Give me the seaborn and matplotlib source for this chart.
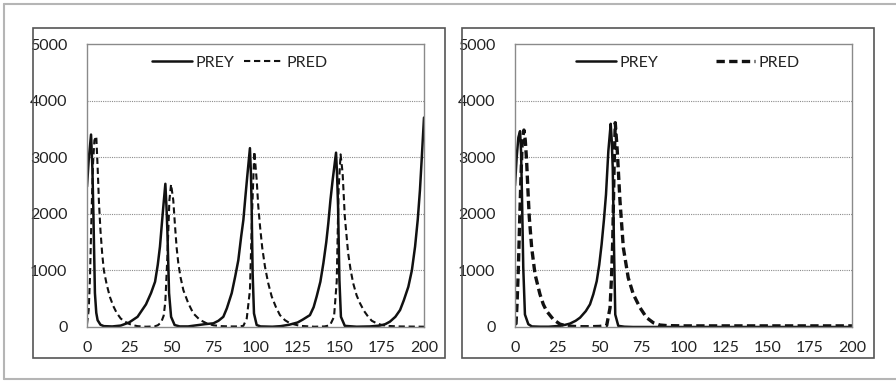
"""
Predator-prey time series, two panels side by side.
"""

import matplotlib
matplotlib.use('Agg')
import matplotlib.pyplot as plt
from matplotlib.patches import Rectangle
from matplotlib.lines import Line2D
from matplotlib.ticker import MultipleLocator
import seaborn as sns

# --- data ------------------------------------------------------------------
left_prey_t = [0, 1, 2.4, 3.2, 3.8, 4.7, 5.5, 6.3, 8, 10, 15, 20, 25, 30, 35, 38,
               40.4, 42, 43.3, 44.5, 45.3, 46.5, 47.2, 47.7, 48.7, 49.9, 52, 55,
               60, 65, 70, 75, 78, 80.9, 83, 85.9, 88, 89.8, 91.5, 92.8, 94, 95.1,
               96.7, 97.3, 97.7, 98.3, 99.1, 100.7, 103, 110, 115, 120, 125, 128,
               132.3, 134.5, 136.3, 138.5, 140.3, 142, 143.2, 144.5, 145.8, 147.8,
               148.4, 149, 149.8, 150.7, 153, 160, 167.9, 173.9, 177, 179.8, 183,
               185.8, 188, 190.7, 192.8, 194.7, 196.3, 197.6, 198.7, 200]
left_prey = [2480, 2950, 3400, 2800, 2000, 600, 250, 120, 40, 15, 10, 25, 80, 180,
             400, 600, 800, 1100, 1420, 1850, 2130, 2530, 2100, 1700, 600, 180, 35,
             10, 10, 30, 50, 65, 110, 180, 330, 600, 900, 1180, 1600, 1890, 2300,
             2660, 3160, 2700, 2130, 950, 240, 35, 10, 5, 15, 40, 80, 130, 210, 350,
             540, 800, 1130, 1500, 1830, 2250, 2600, 3080, 2700, 2130, 830, 180, 20,
             5, 10, 25, 50, 95, 180, 300, 470, 710, 1000, 1420, 1900, 2420, 3000,
             3700]

left_pred_t = [0, 1, 1.8, 2.8, 3.6, 4.4, 5.5, 6.3, 7.1, 8, 9, 10, 11.7, 13.6, 15.6,
               17.6, 20, 22.5, 25, 27.5, 30, 35, 40, 42, 44, 45.5, 46.5, 47.7, 48.9,
               49.9, 51.2, 52.2, 53.2, 54.2, 55.5, 57.2, 60.1, 63.1, 67, 71, 75, 80,
               85, 90, 92.8, 94.8, 96.7, 98.1, 99.3, 100.7, 101.6, 102.7, 104, 105.6,
               107.5, 109.6, 112, 114.5, 117.5, 120.5, 126.4, 135, 141, 144.2, 146.6,
               148.2, 149.3, 150.5, 151.7, 153, 155, 156.5, 158, 160, 162, 164.5,
               166.9, 169, 171.9, 175, 177.8, 185, 200]
left_pred = [50, 300, 900, 2130, 2900, 3300, 3370, 2830, 2200, 1700, 1300, 1000,
             750, 530, 370, 250, 150, 95, 55, 30, 15, 5, 10, 30, 80, 200, 450, 1240,
             2240, 2520, 2240, 1800, 1400, 1125, 880, 650, 420, 240, 125, 65, 30, 15,
             10, 10, 20, 150, 650, 2130, 3100, 2600, 2150, 1775, 1400, 1070, 780,
             540, 360, 210, 120, 65, 20, 5, 10, 30, 180, 800, 2420, 3050, 2720, 1950,
             1300, 1000, 770, 560, 420, 280, 180, 110, 65, 35, 20, 10, 5]

right_prey_t = [0, 1, 2, 3, 3.6, 4.2, 4.9, 5.9, 7.9, 10, 15, 20, 26.7, 30, 32.6, 36,
                38.6, 42, 44.5, 46.5, 48.5, 50, 51.4, 52.8, 54, 55.4, 56.8, 57.4, 58,
                58.8, 59.5, 61.3, 65, 70, 100, 150, 200]
right_prey = [2500, 3000, 3350, 3460, 3100, 2220, 1050, 220, 50, 10, 5, 5, 20, 40,
              60, 110, 165, 280, 400, 580, 810, 1100, 1460, 1900, 2340, 3110, 3590,
              3300, 2810, 1340, 220, 20, 5, 0, 0, 0, 0]

right_pred_t = [0, 0.6, 1.2, 2, 2.7, 3.4, 4.3, 5.3, 6.1, 6.9, 7.7, 8.5, 9.9, 11.9,
                14.8, 16.8, 18.8, 22.7, 26.7, 30.7, 35, 40, 45, 50, 54.4, 56.4, 57.3,
                58, 58.8, 59.5, 60.7, 62.3, 64.3, 67.2, 70.2, 74.2, 78.1, 82.1, 86,
                90, 100, 125, 150, 175, 200]
right_pred = [50, 60, 400, 1050, 1800, 2520, 3300, 3480, 3300, 2930, 2400, 1930,
              1400, 930, 580, 400, 280, 135, 50, 20, 10, 5, 5, 10, 25, 340, 900, 1520,
              2810, 3610, 3110, 2230, 1400, 870, 580, 340, 165, 75, 35, 25, 20, 20, 20,
              20, 20]

series_labels = ['PREY', 'PRED']
x_ticks = list(range(0, 201, 25))
y_ticks = list(range(0, 5001, 1000))

# --- style -----------------------------------------------------------------
sns.set_style('white')
plt.rcParams['font.family'] = ['Lato', 'DejaVu Sans']
plt.rcParams['text.color'] = '#222222'

LINE = '#111111'

fig = plt.figure(figsize=(8.96, 3.81), dpi=100)

# outer light frame (top, left, bottom) in pixel coords
W, H = 896, 381
for xs, ys in [((4, 896), (377, 377)), ((4, 4), (2, 377)), ((4, 896), (2, 2))]:
    fig.add_artist(Line2D([x / W for x in xs], [y / H for y in ys],
                          transform=fig.transFigure, color='#b5b5b5', lw=1.5))

# dark boxes around each panel
for left in (33, 462):
    fig.add_artist(Rectangle((left / W, 23 / H), 412 / W, 330 / H,
                             transform=fig.transFigure, fill=False,
                             edgecolor='#555555', lw=1.2))

panels = [
    (87, left_prey_t, left_prey, left_pred_t, left_pred, 1.5, (0, (3.0, 1.8)), 0.6, 0.454),
    (515, right_prey_t, right_prey, right_pred_t, right_pred, 2.4, (0, (2.5, 1.3)), 3.6, 0.513),
]

for x0, pt, py, dt, dy, dlw, dls, colsp, lx in panels:
    ax = fig.add_axes([x0 / W, 54 / H, 337 / W, 283 / H])
    sns.lineplot(x=pt, y=py, ax=ax, color=LINE, lw=1.8, label=series_labels[0],
                 errorbar=None, sort=False)
    sns.lineplot(x=dt, y=dy, ax=ax, color=LINE, lw=dlw, linestyle=dls,
                 label=series_labels[1], errorbar=None, sort=False)

    ax.set_xlim(0, 200)
    ax.set_ylim(0, 5000)
    ax.set_xticks(x_ticks)
    ax.set_yticks(y_ticks)
    ax.xaxis.set_minor_locator(MultipleLocator(10))
    ax.yaxis.set_minor_locator(MultipleLocator(500))
    ax.tick_params(axis='both', which='major', length=0, labelsize=11.5,
                   labelcolor='#222222')
    ax.tick_params(axis='x', which='major', pad=10)
    ax.tick_params(axis='y', which='major', pad=14)
    ax.tick_params(axis='both', which='minor', direction='in', length=3,
                   width=0.8, color='#888888')
    ax.set_xlabel('')
    ax.set_ylabel('')

    ax.grid(False)
    for v in y_ticks[1:-1]:
        ax.axhline(v, color='#8c8c8c', lw=0.8, ls=(0, (1, 1)), zorder=0)

    for sp in ax.spines.values():
        sp.set_color('#8a8a8a')
        sp.set_linewidth(1.0)

    ax.legend(loc='center', bbox_to_anchor=(lx, 0.933), ncol=2, frameon=False,
              fontsize=11.5, handlelength=2.5, handletextpad=0.2,
              columnspacing=colsp, borderpad=0)

fig.savefig('out.png', dpi=100)
plt.close(fig)
